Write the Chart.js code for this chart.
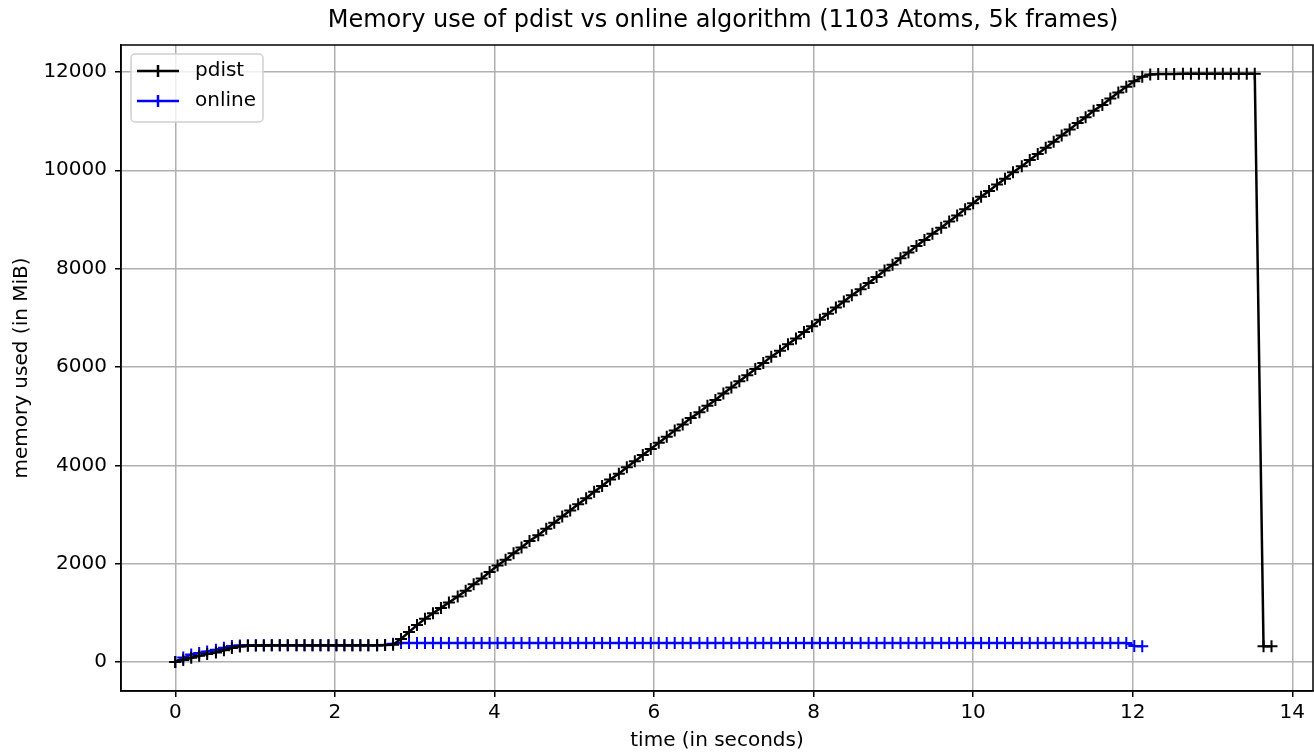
<!DOCTYPE html>
<html lang="en">
<head>
    <meta charset="UTF-8">
    <title>Memory use of pdist vs online algorithm</title>
    <!-- Chart js Library -->
    <script src="https://cdn.jsdelivr.net/npm/chart.js"></script>
    <style>
        body {
            margin: 0;
            padding: 0;
            background-color: white;
        }
        canvas {
            display: block;
        }
    </style>
</head>
<body>
    <canvas id="memChart" width="1314" height="753"></canvas>

    <script>
        // sample times (seconds), shared by both runs
        const times = [
            0.00, 0.10, 0.20, 0.30, 0.40, 0.51, 0.61, 0.71, 0.81, 0.91,
            1.01, 1.11, 1.21, 1.31, 1.41, 1.52, 1.62, 1.72, 1.82, 1.92,
            2.02, 2.12, 2.22, 2.32, 2.42, 2.53, 2.63, 2.73, 2.83, 2.93,
            3.03, 3.13, 3.23, 3.33, 3.43, 3.54, 3.64, 3.74, 3.84, 3.94,
            4.04, 4.14, 4.24, 4.34, 4.44, 4.55, 4.65, 4.75, 4.85, 4.95,
            5.05, 5.15, 5.25, 5.35, 5.45, 5.56, 5.66, 5.76, 5.86, 5.96,
            6.06, 6.16, 6.26, 6.36, 6.46, 6.57, 6.67, 6.77, 6.87, 6.97,
            7.07, 7.17, 7.27, 7.37, 7.47, 7.58, 7.68, 7.78, 7.88, 7.98,
            8.08, 8.18, 8.28, 8.38, 8.48, 8.59, 8.69, 8.79, 8.89, 8.99,
            9.09, 9.19, 9.29, 9.39, 9.49, 9.60, 9.70, 9.80, 9.90, 10.00,
            10.10, 10.20, 10.30, 10.40, 10.50, 10.61, 10.71, 10.81, 10.91, 11.01,
            11.11, 11.21, 11.31, 11.41, 11.51, 11.62, 11.72, 11.82, 11.92, 12.02,
            12.12, 12.22, 12.32, 12.42, 12.52, 12.63, 12.73, 12.83, 12.93, 13.03,
            13.13, 13.23, 13.33, 13.43, 13.53, 13.64, 13.74
        ];

        // memory used (MiB) by pdist
        const pdistMem = [
            0, 40, 85, 125, 160, 195, 240, 285, 315, 330,
            335, 335, 338, 338, 340, 340, 340, 340, 340, 340,
            340, 340, 340, 340, 340, 340, 345, 350, 470, 610,
            750, 880, 990, 1100, 1210, 1330, 1450, 1580, 1700, 1830,
            1960, 2080, 2210, 2330, 2460, 2580, 2710, 2830, 2960, 3080,
            3210, 3330, 3460, 3580, 3710, 3830, 3960, 4080, 4210, 4330,
            4460, 4580, 4710, 4830, 4960, 5080, 5210, 5330, 5460, 5580,
            5710, 5830, 5960, 6080, 6210, 6330, 6460, 6580, 6710, 6830,
            6960, 7080, 7210, 7330, 7460, 7580, 7710, 7830, 7960, 8080,
            8210, 8330, 8460, 8580, 8710, 8830, 8960, 9080, 9210, 9330,
            9460, 9580, 9710, 9830, 9960, 10080, 10210, 10330, 10460, 10580,
            10710, 10830, 10960, 11080, 11210, 11330, 11460, 11580, 11700, 11810,
            11900, 11950, 11960, 11960, 11960, 11965, 11965, 11965, 11965, 11965,
            11965, 11965, 11965, 11965, 11965, 320, 320
        ];

        // memory used (MiB) by the online algorithm
        const onlineMem = [
            0, 90, 150, 185, 215, 250, 290, 325, 335, 340,
            340, 340, 340, 340, 340, 340, 340, 340, 340, 340,
            340, 340, 340, 340, 340, 340, 345, 370, 385, 385,
            385, 385, 385, 385, 385, 385, 385, 385, 385, 385,
            385, 385, 385, 385, 385, 385, 385, 385, 385, 385,
            385, 385, 385, 385, 385, 385, 385, 385, 385, 385,
            385, 385, 385, 385, 385, 385, 385, 385, 385, 385,
            385, 385, 385, 385, 385, 385, 385, 385, 385, 385,
            385, 385, 385, 385, 385, 385, 385, 385, 385, 385,
            385, 385, 385, 385, 385, 385, 385, 385, 385, 385,
            385, 385, 385, 385, 385, 385, 385, 385, 385, 385,
            385, 385, 385, 385, 385, 385, 385, 385, 385, 325,
            320
        ];

        const xTicks = [0, 2, 4, 6, 8, 10, 12, 14];
        const yTicks = [0, 2000, 4000, 6000, 8000, 10000, 12000];
        const chartTitle = 'Memory use of pdist vs online algorithm (1103 Atoms, 5k frames)';

        const toPoints = vals => vals.map((v, i) => ({ x: times[i], y: v }));

        Chart.defaults.font.family = "'DejaVu Sans', sans-serif";
        Chart.defaults.color = '#000';

        // title over the plot area + box round it (matplotlib spines)
        const frame = {
            id: 'frame',
            afterDatasetsDraw(chart) {
                const a = chart.chartArea;
                const ctx = chart.ctx;
                ctx.save();
                ctx.strokeStyle = '#000';
                ctx.lineWidth = 1.5;
                ctx.strokeRect(a.left, a.top, a.right - a.left, a.bottom - a.top);
                ctx.fillStyle = '#000';
                ctx.font = "24px 'DejaVu Sans'";
                ctx.textAlign = 'center';
                ctx.textBaseline = 'middle';
                ctx.fillText(chartTitle, (a.left + a.right) / 2 + 6, 21);
                ctx.restore();
            }
        };

        // legend box in the upper left corner
        const innerLegend = {
            id: 'innerLegend',
            afterDraw(chart) {
                const ctx = chart.ctx;
                const x = 131, y = 54, w = 132, h = 68;
                ctx.save();
                ctx.beginPath();
                ctx.roundRect(x, y, w, h, 4);
                ctx.fillStyle = 'rgba(255,255,255,0.8)';
                ctx.fill();
                ctx.strokeStyle = '#d0d0d0';
                ctx.lineWidth = 1.5;
                ctx.stroke();
                const items = [
                    { label: 'pdist', color: '#000000', yy: 71 },
                    { label: 'online', color: '#0000ff', yy: 101 }
                ];
                items.forEach(it => {
                    ctx.strokeStyle = it.color;
                    ctx.lineWidth = 2.5;
                    ctx.beginPath();
                    ctx.moveTo(137, it.yy);
                    ctx.lineTo(179, it.yy);
                    ctx.moveTo(158, it.yy - 6);
                    ctx.lineTo(158, it.yy + 6);
                    ctx.stroke();
                    ctx.fillStyle = '#000';
                    ctx.font = "20px 'DejaVu Sans'";
                    ctx.textBaseline = 'middle';
                    ctx.fillText(it.label, 195, it.yy);
                });
                ctx.restore();
            }
        };

        new Chart(document.getElementById('memChart'), {
            type: 'line',
            data: {
                datasets: [
                    {
                        label: 'pdist',
                        data: toPoints(pdistMem),
                        borderColor: '#000000',
                        backgroundColor: '#000000',
                        borderWidth: 2.5,
                        pointStyle: 'cross',
                        pointRadius: 6,
                        pointBorderWidth: 2,
                        tension: 0
                    },
                    {
                        label: 'online',
                        data: toPoints(onlineMem),
                        borderColor: '#0000ff',
                        backgroundColor: '#0000ff',
                        borderWidth: 2.5,
                        pointStyle: 'cross',
                        pointRadius: 6,
                        pointBorderWidth: 2,
                        tension: 0
                    }
                ]
            },
            options: {
                responsive: false,
                animation: false,
                devicePixelRatio: 1,
                events: [],
                layout: { autoPadding: false, padding: { top: 45, right: 1 } },
                plugins: {
                    legend: { display: false },
                    tooltip: { enabled: false },
                    title: { display: false }
                },
                scales: {
                    x: {
                        type: 'linear',
                        min: -0.68,
                        max: 14.26,
                        afterBuildTicks: s => { s.ticks = xTicks.map(v => ({ value: v })); },
                        afterFit: s => { s.height = 62; s.paddingLeft = 0; s.paddingRight = 0; },
                        ticks: { font: { size: 20 }, color: '#000', padding: 4, maxRotation: 0, autoSkip: false,
                                 callback: v => String(v) },
                        grid: { color: '#b0b0b0', lineWidth: 1.5, tickColor: '#000', tickLength: 6, tickWidth: 1.5 },
                        border: { display: true, color: '#000', width: 1.5 },
                        title: { display: true, text: 'time (in seconds)', font: { size: 20 }, color: '#000', padding: 0 }
                    },
                    y: {
                        min: -590,
                        max: 12548,
                        afterBuildTicks: s => { s.ticks = yTicks.map(v => ({ value: v })); },
                        afterFit: s => { s.width = 121; s.paddingTop = 0; s.paddingBottom = 0; },
                        ticks: { font: { size: 20 }, color: '#000', padding: 8, callback: v => String(v) },
                        grid: { color: '#b0b0b0', lineWidth: 1.5, tickColor: '#000', tickLength: 6, tickWidth: 1.5 },
                        border: { display: true, color: '#000', width: 1.5 },
                        title: { display: true, text: 'memory used (in MiB)', font: { size: 20 }, color: '#000', padding: { top: 10, bottom: 0 } }
                    }
                }
            },
            plugins: [frame, innerLegend]
        });
    </script>
</body>
</html>
